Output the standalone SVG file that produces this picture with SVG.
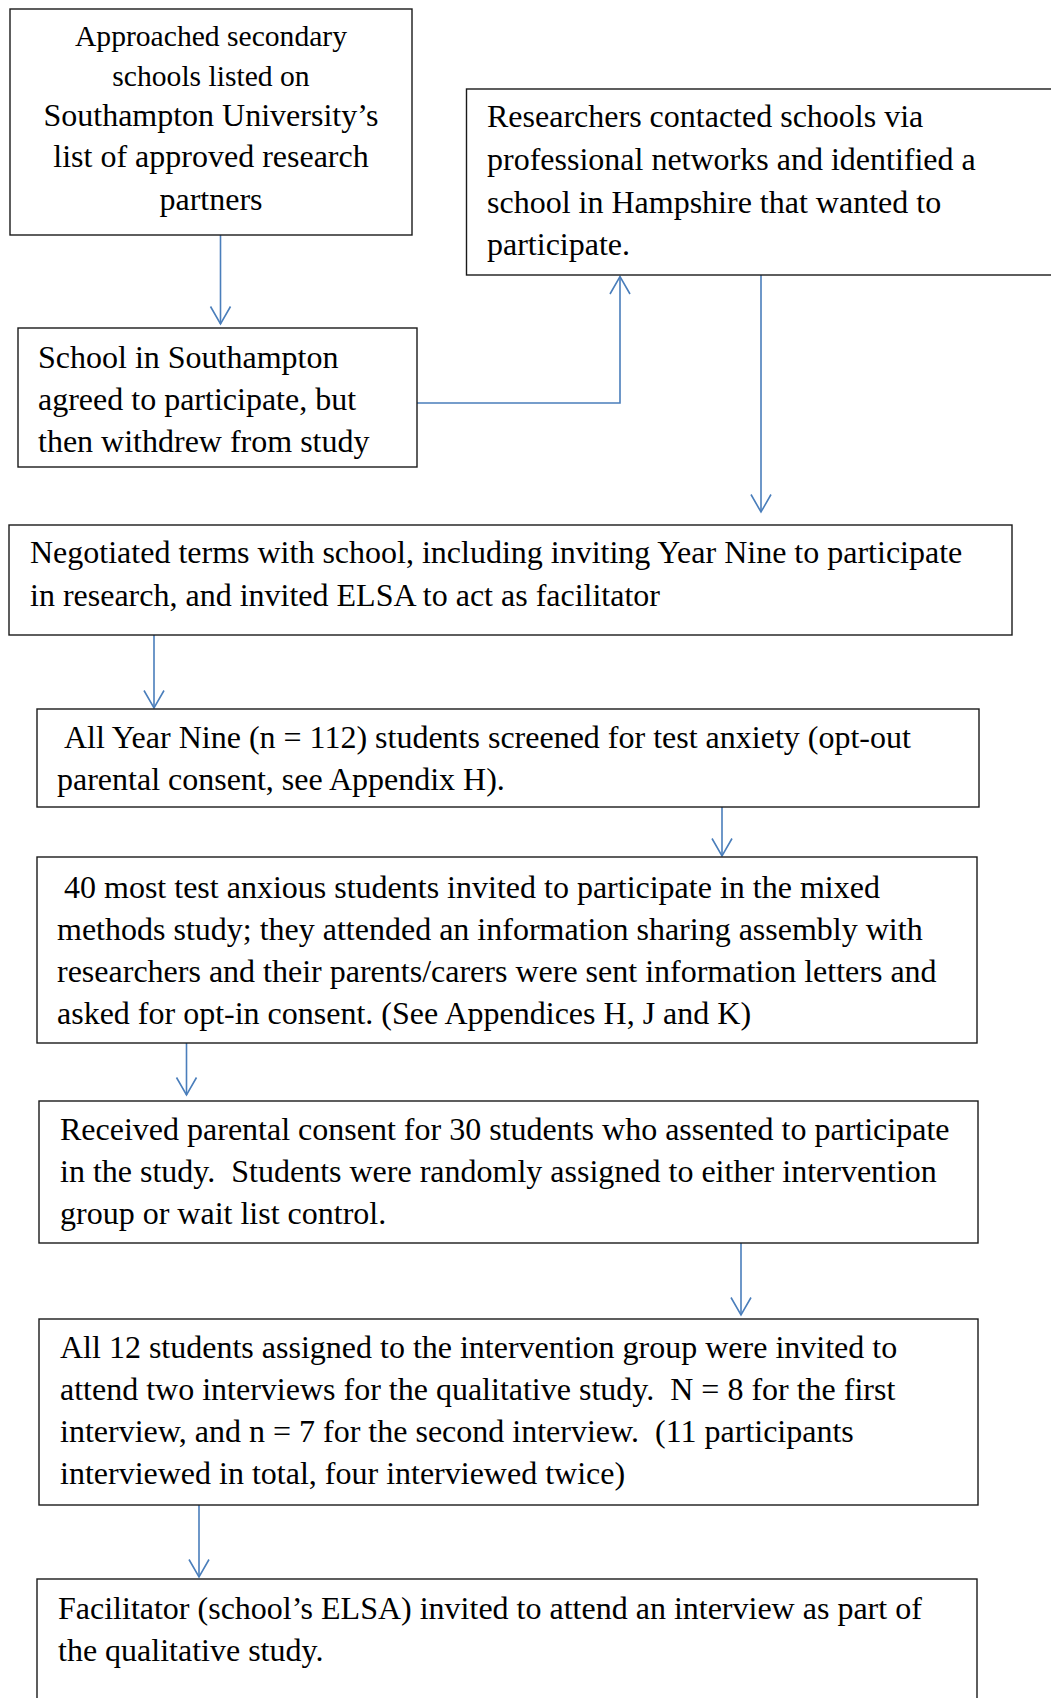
<svg xmlns="http://www.w3.org/2000/svg" width="1051" height="1698" viewBox="0 0 1051 1698">
  <style>
    .box { fill: #ffffff; stroke: #1a1a1a; stroke-width: 1.4; }
    .t { font-family: "Liberation Serif", "Times New Roman", serif; font-size: 32px; fill: #000000; }
    .ts { font-size: 29.6px; }
    .c { text-anchor: middle; }
    .link { fill: none; stroke: #4a7ebb; stroke-width: 1.6; marker-end: url(#open); }
  </style>
  <defs>
    <marker id="open" markerUnits="userSpaceOnUse" viewBox="-20 -12 22 24" refX="0" refY="0" markerWidth="22" markerHeight="24" orient="auto" overflow="visible">
      <path d="M-17.5,-10 L0,0 L-17.5,10" fill="none" stroke="#4a7ebb" stroke-width="1.6"/>
    </marker>
  </defs>
  <rect width="1051" height="1698" fill="#ffffff"/>

  <!-- flow connectors -->
  <g id="connectors">
    <path class="link" d="M220.5,235 L220.5,324"/>
    <path class="link" d="M417,403 L620,403 L620,276.5"/>
    <path class="link" d="M761,275 L761,512"/>
    <path class="link" d="M154,634 L154,708"/>
    <path class="link" d="M722,807 L722,856"/>
    <path class="link" d="M186.5,1043 L186.5,1095"/>
    <path class="link" d="M741,1243 L741,1315"/>
    <path class="link" d="M199,1505 L199,1577"/>
  </g>

  <g id="approached-schools">
    <rect class="box" x="10" y="9" width="402" height="226"/>
    <text class="t ts c" x="211" y="46">Approached secondary</text>
    <text class="t ts c" x="211" y="86">schools listed on</text>
    <text class="t c" x="211" y="126">Southampton University’s</text>
    <text class="t c" x="211" y="167">list of approved research</text>
    <text class="t c" x="211" y="210">partners</text>
  </g>

  <g id="professional-networks">
    <rect class="box" x="466.5" y="89" width="600" height="186"/>
    <text class="t" x="487" y="127">Researchers contacted schools via</text>
    <text class="t" x="487" y="170">professional networks and identified a</text>
    <text class="t" x="487" y="213">school in Hampshire that wanted to</text>
    <text class="t" x="487" y="255">participate.</text>
  </g>

  <g id="southampton-withdrew">
    <rect class="box" x="18" y="328" width="399" height="139"/>
    <text class="t" x="38" y="368">School in Southampton</text>
    <text class="t" x="38" y="410">agreed to participate, but</text>
    <text class="t" x="38" y="452">then withdrew from study</text>
  </g>

  <g id="negotiated-terms">
    <rect class="box" x="9" y="525" width="1003" height="110"/>
    <text class="t" x="30" y="563">Negotiated terms with school, including inviting Year Nine to participate</text>
    <text class="t" x="30" y="606">in research, and invited ELSA to act as facilitator</text>
  </g>

  <g id="screening">
    <rect class="box" x="37" y="709" width="942" height="98"/>
    <text class="t" x="64" y="748">All Year Nine (n = 112) students screened for test anxiety (opt-out</text>
    <text class="t" x="57" y="790">parental consent, see Appendix H).</text>
  </g>

  <g id="invitation">
    <rect class="box" x="37" y="857" width="940" height="186"/>
    <text class="t" x="64" y="898">40 most test anxious students invited to participate in the mixed</text>
    <text class="t" x="57" y="940">methods study; they attended an information sharing assembly with</text>
    <text class="t" x="57" y="982">researchers and their parents/carers were sent information letters and</text>
    <text class="t" x="57" y="1024">asked for opt-in consent. (See Appendices H, J and K)</text>
  </g>

  <g id="consent-randomisation">
    <rect class="box" x="39" y="1101" width="939" height="142"/>
    <text class="t" x="60" y="1140">Received parental consent for 30 students who assented to participate</text>
    <text class="t" x="60" y="1182" xml:space="preserve">in the study.  Students were randomly assigned to either intervention</text>
    <text class="t" x="60" y="1224">group or wait list control.</text>
  </g>

  <g id="student-interviews">
    <rect class="box" x="39" y="1319" width="939" height="186"/>
    <text class="t" x="60" y="1358">All 12 students assigned to the intervention group were invited to</text>
    <text class="t" x="60" y="1400" xml:space="preserve">attend two interviews for the qualitative study.  N = 8 for the first</text>
    <text class="t" x="60" y="1442" xml:space="preserve">interview, and n = 7 for the second interview.  (11 participants</text>
    <text class="t" x="60" y="1484">interviewed in total, four interviewed twice)</text>
  </g>

  <g id="facilitator-interview">
    <rect class="box" x="37" y="1579" width="940" height="140"/>
    <text class="t" x="58" y="1619">Facilitator (school’s ELSA) invited to attend an interview as part of</text>
    <text class="t" x="58" y="1661">the qualitative study.</text>
  </g>
</svg>
